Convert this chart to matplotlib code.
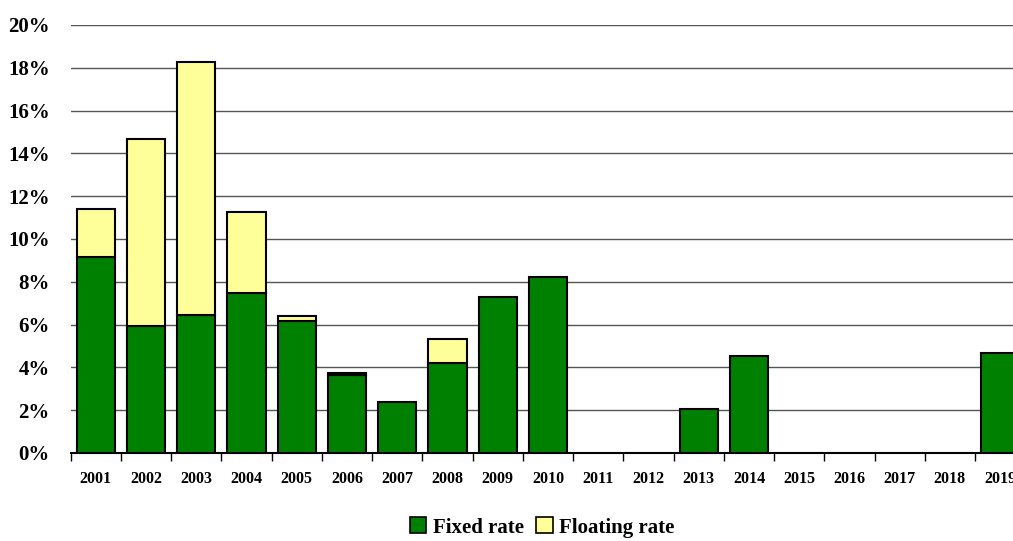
import numpy as np
import matplotlib
matplotlib.use("Agg")
import matplotlib.pyplot as plt
from matplotlib.patches import Patch
from matplotlib.ticker import FuncFormatter

# Maturity profile: share of debt by year, split into fixed and floating rate
years = [str(y) for y in range(2001, 2020)]
fixed = [9.17, 5.92, 6.46, 7.49, 6.18, 3.65, 2.36, 4.22, 7.31, 8.24,
         0, 0, 2.06, 4.51, 0, 0, 0, 0, 4.68]
floating = [2.24, 8.76, 11.82, 3.77, 0.20, 0.11, 0, 1.12, 0, 0,
            0, 0, 0, 0, 0, 0, 0, 0, 0]

GREEN = "#008000"
YELLOW = "#FFFF99"

plt.rcParams['font.family'] = ['Liberation Serif', 'DejaVu Serif']
plt.rcParams['font.weight'] = 'bold'

fig = plt.figure(figsize=(10.13, 5.41), dpi=100)
# axes runs slightly past the right edge of the figure
ax = fig.add_axes([0.0698, 0.1627, 0.9423, 0.7911])

x = np.arange(len(years))
fixed = np.array(fixed)
floating = np.array(floating)

has_fixed = fixed > 0
ax.bar(x[has_fixed], fixed[has_fixed], width=0.763, color=GREEN,
       edgecolor="black", linewidth=1.5, zorder=3)
has_float = floating > 0
ax.bar(x[has_float], floating[has_float], bottom=fixed[has_float], width=0.763,
       color=YELLOW, edgecolor="black", linewidth=1.5, zorder=3)

ax.set_xlim(-0.5, len(years) - 0.5)
ax.set_ylim(0, 20)
ax.set_yticks(np.arange(0, 21, 2))
ax.yaxis.set_major_formatter(FuncFormatter(lambda v, p: f"{v:.0f}%"))
ax.yaxis.grid(True, color="#555555", linewidth=1)
ax.set_axisbelow(True)

ax.set_xticks(x)
ax.set_xticklabels(years, fontsize=11.5, fontweight='bold')
ax.set_xticks(np.arange(-0.5, len(years), 1), minor=True)
ax.tick_params(axis='x', which='major', length=0, pad=13)
ax.tick_params(axis='x', which='minor', length=6, width=1, color="black", direction='out')
ax.tick_params(axis='y', length=0, labelsize=15, pad=15)
for lab in ax.get_yticklabels():
    lab.set_fontweight('bold')

for side in ("left", "right", "top"):
    ax.spines[side].set_visible(False)
ax.spines["bottom"].set_linewidth(1.5)

handles = [Patch(facecolor=GREEN, edgecolor="black", linewidth=1.2, label="Fixed rate"),
           Patch(facecolor=YELLOW, edgecolor="black", linewidth=1.2, label="Floating rate")]
fig.legend(handles=handles, loc="center", bbox_to_anchor=(0.535, 0.025), ncol=2,
           frameon=False, handlelength=0.8, handleheight=0.8, handletextpad=0.3,
           columnspacing=0.6, prop={'size': 15, 'weight': 'bold'})

fig.savefig("out.png", dpi=100)
